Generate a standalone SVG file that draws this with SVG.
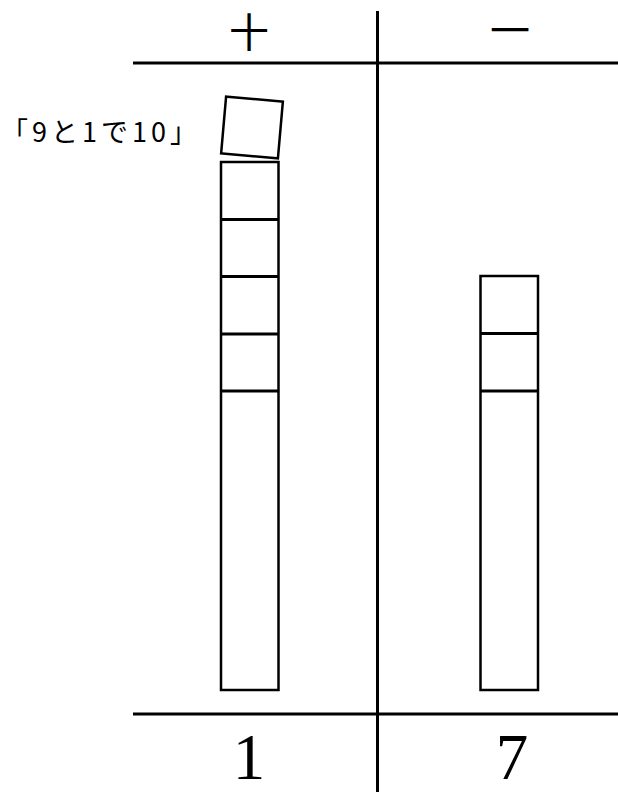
<svg xmlns="http://www.w3.org/2000/svg" width="618" height="792" viewBox="0 0 618 792">
<style>
.ln{stroke:#000;stroke-width:3;fill:none}
.bx{stroke:#000;stroke-width:2.5;fill:#fff}
.hd{font-family:"Noto Sans CJK JP","Noto Sans",sans-serif;font-size:40px;font-weight:400;fill:#000;text-anchor:middle}
.num{font-family:"Liberation Serif","Times New Roman",serif;font-size:65px;fill:#000;text-anchor:middle}
.lbl{font-family:"Noto Sans CJK JP","Noto Sans",sans-serif;font-size:27px;letter-spacing:4px;fill:#000}
</style>
<rect width="618" height="792" fill="#fff"/>
<g id="table">
<line class="ln" x1="133" y1="63" x2="618" y2="63"/>
<line class="ln" x1="133" y1="714" x2="618" y2="714"/>
<line class="ln" x1="377.5" y1="11" x2="377.5" y2="792"/>
</g>
<g id="header-tens"><text class="hd" x="249" y="47">十</text></g>
<g id="header-ones"><text class="hd" x="510" y="45">一</text></g>
<g id="tens-rod">
<rect class="bx" x="221" y="162" width="57.5" height="528"/>
<line class="ln" x1="221" y1="219.5" x2="278.5" y2="219.5" stroke-width="2.5"/>
<line class="ln" x1="221" y1="276.5" x2="278.5" y2="276.5" stroke-width="2.5"/>
<line class="ln" x1="221" y1="334" x2="278.5" y2="334" stroke-width="2.5"/>
<line class="ln" x1="221" y1="391" x2="278.5" y2="391" stroke-width="2.5"/>
</g>
<g id="moving-unit">
<rect class="bx" x="-28.5" y="-28.5" width="57" height="57" transform="translate(252 127.5) rotate(5)"/>
</g>
<g id="label"><text class="lbl" x="1" y="142">「9と1で10」</text></g>
<g id="ones-rod">
<rect class="bx" x="480.5" y="276" width="57.5" height="414"/>
<line class="ln" x1="480.5" y1="333.5" x2="538" y2="333.5" stroke-width="2.5"/>
<line class="ln" x1="480.5" y1="391" x2="538" y2="391" stroke-width="2.5"/>
</g>
<g id="result-tens"><text class="num" x="249" y="779">1</text></g>
<g id="result-ones"><text class="num" x="512" y="779">7</text></g>
</svg>
